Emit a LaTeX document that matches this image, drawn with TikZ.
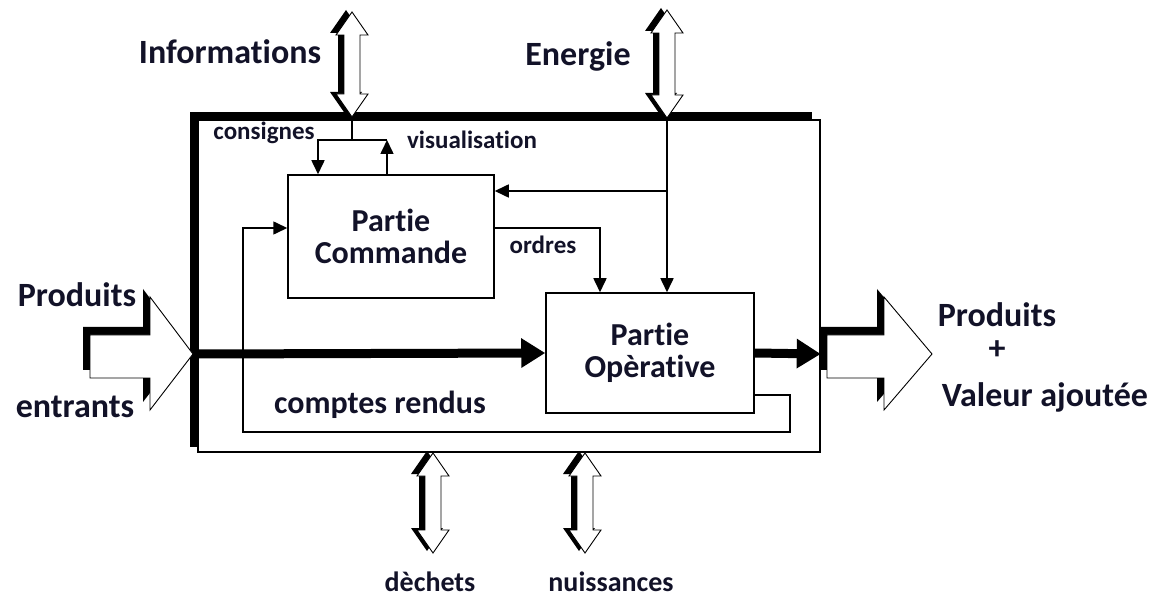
\documentclass[tikz,border=0pt]{standalone}
\usepackage{fontspec}
\setmainfont{Carlito}[Ligatures=NoCommon]
\usetikzlibrary{arrows.meta}
\definecolor{ink}{RGB}{18,18,40}

% hollow double arrow with a dark shadow on its left: x, top tip y, bottom tip y
\newcommand\dblarrow[3]{%
  \foreach \dx/\dy/\sty in {-6/-2/shade, 0/0/hollow}{%
    \path[\sty] ({#1+\dx},{#2+\dy}) -- ({#1+\dx+16},{#2+\dy+23}) -- ({#1+\dx+8},{#2+\dy+23})
      -- ({#1+\dx+8},{#3+\dy-23}) -- ({#1+\dx+16},{#3+\dy-23}) -- ({#1+\dx},{#3+\dy})
      -- ({#1+\dx-16},{#3+\dy-23}) -- ({#1+\dx-8},{#3+\dy-23}) -- ({#1+\dx-8},{#2+\dy+23})
      -- ({#1+\dx-16},{#2+\dy+23}) -- cycle;
  }}
% hollow flow arrow with a dark shadow on top and left: tail x, head base x, tip x
\newcommand\flowarrow[3]{%
  \foreach \dx/\dy/\sty in {-7/-8/shade, 0/0/hollow}{%
    \path[\sty] ({#1+\dx},{335+\dy}) -- ({#2+\dx},{335+\dy}) -- ({#2+\dx},{297+\dy})
      -- ({#3+\dx},{354+\dy}) -- ({#2+\dx},{410+\dy}) -- ({#2+\dx},{378+\dy})
      -- ({#1+\dx},{378+\dy}) -- cycle;
  }}

\begin{document}
\begin{tikzpicture}[x=1pt,y=-1pt,
  big/.style={font=\bfseries\fontsize{34}{36}\selectfont, text=ink, inner sep=0pt},
  mid/.style={font=\bfseries\fontsize{32}{32}\selectfont, text=ink, align=center},
  sml/.style={font=\bfseries\fontsize{25}{27}\selectfont, text=ink, inner sep=0pt},
  blk/.style={draw=black, line width=1.5pt, fill=white, inner sep=0pt},
  wire/.style={draw=black, line width=1.6pt},
  tip/.style={-{Triangle[length=14pt,width=13pt]}},
  flow/.style={line width=9pt, -{Triangle[length=24pt,width=28pt]}},
  hollow/.style={fill=white, draw=black, line width=0.9pt, line join=miter},
  shade/.style={fill=black, draw=none}]
\useasboundingbox (0,0) rectangle (1157,601);

% system boundary with heavy top and left edges
\node[draw=black, line width=1.5pt, minimum width=622pt, minimum height=332pt, inner sep=0pt]
  (sys) at (509,286) {};
\draw[line width=9pt, line cap=butt] (194,447) -- (194,117) -- (812,117);

% external exchanges
\dblarrow{352}{12}{117}
\dblarrow{667}{10}{118}
\dblarrow{433}{453}{553}
\dblarrow{585}{453}{553}
\flowarrow{90}{150}{193}
\flowarrow{827}{884}{932}

% inner blocks
\node[blk, mid, minimum width=206pt, minimum height=123pt] (pc) at (391,236.5) {Partie\\Commande};
\node[blk, mid, minimum width=208pt, minimum height=120pt] (po) at (650,353) {Partie\\Opèrative};

\coordinate (info) at (352,117);
\coordinate (nrg) at (667,117);
\coordinate (fork) at (352,140);
\coordinate (visEnd) at (387,140);

% information exchange with the control part
\draw[wire] (info) -- (fork) -- (visEnd);
\draw[wire, tip] (fork) -| (pc.north -| 318,0);
\draw[wire, tip] (pc.north -| visEnd) -- (visEnd);

% energy supply
\draw[wire, tip] (nrg) -- (po.north -| nrg);
\draw[wire, tip] (667,191) -- (pc.east |- 0,191);

% orders
\draw[wire, tip] (pc.east |- 0,228) -| (po.north -| 600,0);

% reports
\draw[wire, tip] (po.east |- 0,395) -- (790,395) -- (790,432) -- (243,432) -- (243,228) -- (pc.west |- 0,228);

% product flow
\draw[flow] (sys.west |- 0,354) -- (po.west);
\draw[flow] (po.east) -- (sys.east |- 0,354);

% labels
\node[big] (tInfo) at (230,52) {Informations};
\node[big] (tEn) at (578,56) {Energie};
\node[sml] (tCons) at (264,133) {consignes};
\node[sml] (tVis) at (472,140) {visualisation};
\node[sml] (tOrd) at (543,245) {ordres};
\node[mid, inner sep=0pt] (tCr) at (380,405) {comptes rendus};
\node[big] (tPin) at (77,295) {Produits};
\node[big] (tEnt) at (75,407) {entrants};
\node[big] (tPout) at (997,315) {Produits};
\node[big] (tPlus) at (997,350) {+};
\node[big] (tVal) at (1045,397) {Valeur ajoutée};
\node[sml, font=\bfseries\fontsize{28}{30}\selectfont] (tDec) at (430,582) {dèchets};
\node[sml, font=\bfseries\fontsize{28}{30}\selectfont] (tNui) at (611,582) {nuissances};
\end{tikzpicture}
\end{document}
